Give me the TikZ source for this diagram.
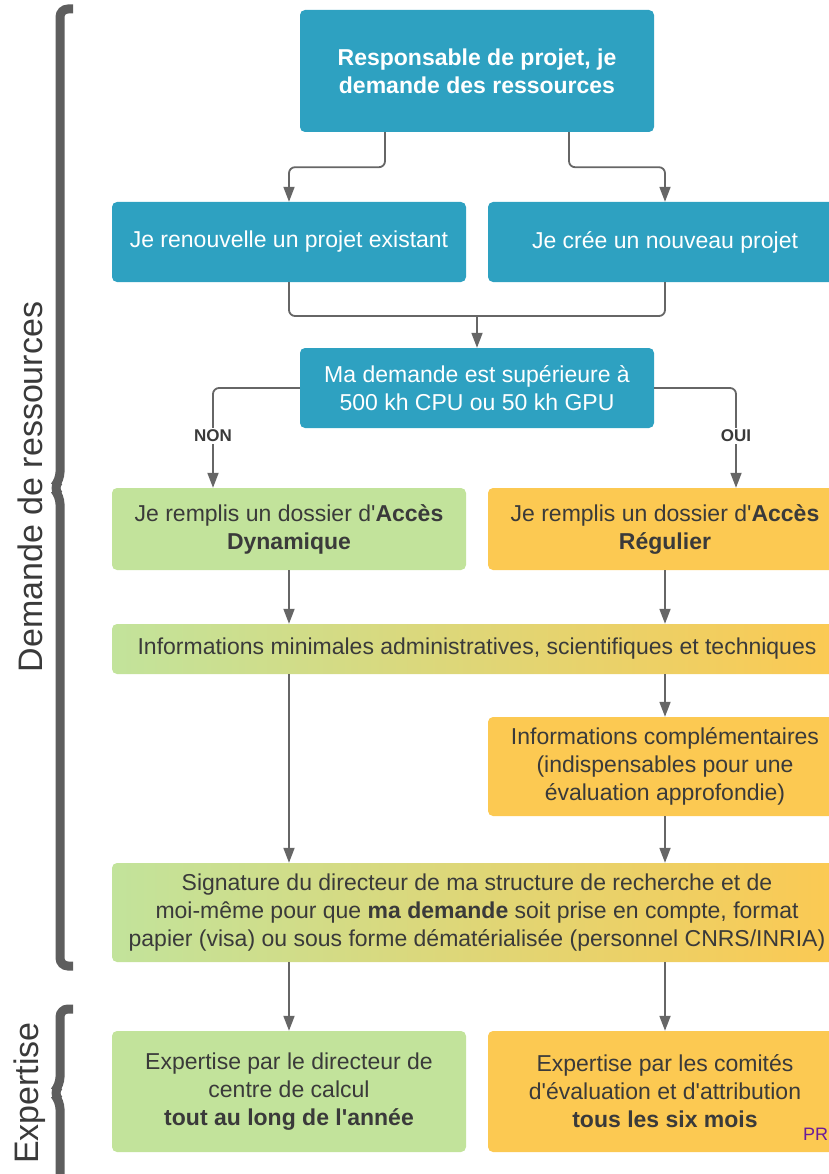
\documentclass[tikz,border=0pt]{standalone}
\usepackage{fontspec}
\newfontfamily\lib{Liberation Sans}
\usetikzlibrary{arrows.meta}
\definecolor{cblue}{HTML}{2EA1C1}
\definecolor{cgreen}{HTML}{C2E39B}
\definecolor{corange}{HTML}{FCC952}
\definecolor{ctext}{HTML}{3A3A3A}
\definecolor{cline}{HTML}{666666}
\definecolor{cbrace}{HTML}{5E5E5E}
\definecolor{cpurple}{HTML}{6A1B9A}
\begin{document}
\begin{tikzpicture}[x=1pt,y=-1pt,
 box/.style={rounded corners=5pt, minimum width=354pt, inner sep=0pt, align=center, font=\lib\fontsize{23}{28}\selectfont},
 bluebox/.style={box, fill=cblue, text=white},
 greenbox/.style={box, fill=cgreen, text=ctext},
 orangebox/.style={box, fill=corange, text=ctext},
 gradbox/.style={box, minimum width=730pt, left color=cgreen, right color=corange, text=ctext},
 conn/.style={draw=cline, line width=1.8pt, rounded corners=6pt},
 arr/.style={conn, -{Triangle[length=15pt,width=11pt]}},
 brace/.style={draw=cbrace, line width=9pt, rounded corners=8pt},
 lab/.style={font=\lib\fontsize{34}{40}\selectfont, text=ctext, rotate=90},
 yn/.style={font=\lib\bfseries\fontsize{17}{20}\selectfont, text=ctext, fill=white, inner sep=2pt}
]
\useasboundingbox (0,0) rectangle (829,1174);
\clip (0,0) rectangle (829,1174);

% braces and labels
\draw[brace] (73,9) -- (60,9) -- (60,480) -- (53,488) -- (60,496) -- (60,966) -- (73,966);
\draw[brace] (73,1009) -- (60,1009) -- (60,1085) -- (53,1093) -- (60,1101) -- (60,1190);
\node[lab] (lab1) at (30,487) {Demande de ressources};
\node[lab] (lab2) at (30,1093) {Expertise};

% boxes
\node[bluebox, minimum height=122pt, font=\lib\bfseries\fontsize{23}{28}\selectfont] (top) at (477,71) {Responsable de projet, je\\demande des ressources};
\node[bluebox, minimum height=80pt] (ren) at (289,242) {Je renouvelle un projet existant};
\node[bluebox, minimum height=80pt] (cree) at (665,242) {Je crée un nouveau projet};
\node[bluebox, minimum height=80pt] (dem) at (477,388) {Ma demande est supérieure à\\500 kh CPU ou 50 kh GPU};
\node[greenbox, minimum height=82pt] (dyn) at (289,529) {Je remplis un dossier d'\textbf{Accès}\\\textbf{Dynamique}};
\node[orangebox, minimum height=82pt] (reg) at (665,529) {Je remplis un dossier d'\textbf{Accès}\\\textbf{Régulier}};
\node[gradbox, minimum height=50pt] (info) at (477,649) {Informations minimales administratives, scientifiques et techniques};
\node[orangebox, minimum height=99pt] (comp) at (665,766.5) {Informations complémentaires\\(indispensables pour une\\évaluation approfondie)};
\node[gradbox, minimum height=99pt] (sig) at (477,912.5) {Signature du directeur de ma structure de recherche et de\\moi-même pour que \textbf{ma demande} soit prise en compte, format\\papier (visa) ou sous forme dématérialisée (personnel CNRS/INRIA)};
\node[greenbox, minimum height=121pt] (expg) at (289,1091.5) {Expertise par le directeur de\\centre de calcul\\\textbf{tout au long de l'année}};
\node[orangebox, minimum height=121pt] (expo) at (665,1091.5) {Expertise par les comités\\d'évaluation et d'attribution\\\textbf{tous les six mois}};

% connectors
\coordinate (m) at (477,316);
\coordinate (nonx) at (213,0);
\coordinate (ouix) at (736,0);
\draw[arr] ([xshift=-92pt]top.south) -- ++(0,35) -| (ren.north);
\draw[arr] ([xshift=92pt]top.south) -- ++(0,35) -| (cree.north);
\draw[conn] (ren.south) |- (m);
\draw[conn] (cree.south) |- (m);
\draw[arr] (m) -- (dem.north);
\draw[arr] (dem.west) -| (nonx |- dyn.north);
\draw[arr] (dem.east) -| (ouix |- reg.north);
\node[yn] (non) at (213,436) {NON};
\node[yn] (oui) at (736,436) {OUI};
\draw[arr] (dyn.south) -- (dyn.south |- info.north);
\draw[arr] (reg.south) -- (reg.south |- info.north);
\draw[arr] (info.south -| dyn.south) -- (sig.north -| dyn.south);
\draw[arr] (info.south -| comp.north) -- (comp.north);
\draw[arr] (comp.south) -- (sig.north -| comp.south);
\draw[arr] (sig.south -| expg.north) -- (expg.north);
\draw[arr] (sig.south -| expo.north) -- (expo.north);

\node[anchor=base west, text=cpurple, font=\lib\fontsize{18}{20}\selectfont, inner sep=0pt] (pr) at (803,1140) {PR};
\end{tikzpicture}
\end{document}
